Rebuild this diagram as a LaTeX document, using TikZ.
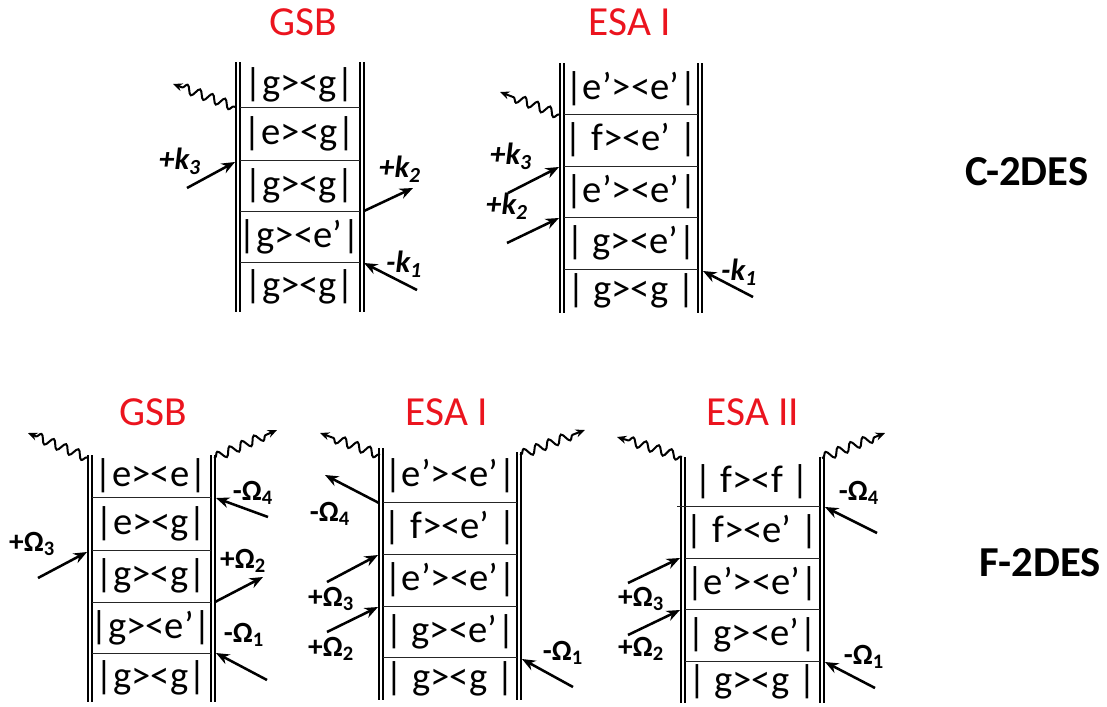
\documentclass[tikz,border=0pt]{standalone}
\usepackage{fontspec}
\setmainfont{Carlito}
\usetikzlibrary{arrows.meta,decorations.pathmorphing}
\definecolor{tred}{RGB}{235,20,30}
\begin{document}
\begin{tikzpicture}[x=0.75pt,y=-0.75pt,
  rail/.style={line width=1.5pt},
  sep/.style={line width=0.7pt,draw=black!85},
  row/.style={font=\fontsize{29}{29}\selectfont,inner sep=0pt},
  ttl/.style={text=tred,font=\fontsize{31}{31}\selectfont,inner sep=0pt},
  beam/.style={line width=1.9pt,-{Stealth[length=10pt,width=8pt]}},
  emit/.style={line width=1.5pt,decorate,decoration={snake,amplitude=3.3pt,segment length=10pt,pre length=1pt,post length=6pt},-{Stealth[length=7pt,width=6pt]}},
  klab/.style={font=\fontsize{23}{23}\selectfont\bfseries\itshape,inner sep=0pt},
  olab/.style={font=\fontsize{22}{22}\selectfont\bfseries,inner sep=0pt},
  side/.style={font=\fontsize{32}{32}\selectfont\bfseries,inner sep=0pt}]
\useasboundingbox (0,0) rectangle (1107,707);

% ================= top GSB =================
\node[ttl] (aT) at (303,22) {GSB};
\draw[rail] (235.5,62) -- (235.5,312) (239.5,62) -- (239.5,312);
\draw[rail] (360,62) -- (360,312) (364,62) -- (364,312);
\foreach \yy in {107,160,211,262} \draw[sep] (239.5,\yy) -- (360,\yy);
\node[row] (a1) at (299.5,84.5) {|g><g|};
\node[row] (a2) at (299.5,133.5) {|e><g|};
\node[row] (a3) at (299.5,185.5) {|g><g|};
\node[row] (a4) at (299.5,236.5) {|g><e’|};
\node[row] (a5) at (299.5,287) {|g><g|};
\coordinate (aw0) at (235,107); \coordinate (aw1) at (173,84);
\draw[emit] (aw0) -- (aw1);
\coordinate (ak3s) at (187,188); \coordinate (ak3e) at (235,162);
\draw[beam] (ak3s) -- (ak3e);
\node[klab] (ak3) at (180,161) {+k\textsubscript{3}};
\coordinate (ak2s) at (364,211); \coordinate (ak2e) at (413,188);
\draw[beam] (ak2s) -- (ak2e);
\node[klab] (ak2) at (400,169) {+k\textsubscript{2}};
\coordinate (ak1s) at (417,290); \coordinate (ak1e) at (364,263);
\draw[beam] (ak1s) -- (ak1e);
\node[klab] (ak1) at (404,264) {-k\textsubscript{1}};

% ================= top ESA I =================
\node[ttl] (bT) at (630,22) {ESA I};
\draw[rail] (560,63) -- (560,313) (564,63) -- (564,313);
\draw[rail] (698,63) -- (698,313) (702,63) -- (702,313);
\foreach \yy in {114,166,217,269} \draw[sep] (564,\yy) -- (698,\yy);
\node[row] (b1) at (631,88.5) {|e’><e’|};
\node[row] (b2) at (631,140) {| f><e’ |};
\node[row] (b3) at (631,191.5) {|e’><e’|};
\node[row] (b4) at (631,243) {| g><e’|};
\node[row] (b5) at (631,291) {| g><g |};
\coordinate (bw0) at (560,115); \coordinate (bw1) at (500,92);
\draw[emit] (bw0) -- (bw1);
\coordinate (bk3s) at (508,193); \coordinate (bk3e) at (559,167);
\draw[beam] (bk3s) -- (bk3e);
\node[klab] (bk3) at (511,156) {+k\textsubscript{3}};
\coordinate (bk2s) at (507,243); \coordinate (bk2e) at (559,218);
\draw[beam] (bk2s) -- (bk2e);
\node[klab] (bk2) at (507,206) {+k\textsubscript{2}};
\coordinate (bk1s) at (753,297); \coordinate (bk1e) at (703,271);
\draw[beam] (bk1s) -- (bk1e);
\node[klab] (bk1) at (739,272) {-k\textsubscript{1}};

\node[side] (cdes) at (1027,172) {C-2DES};

% ================= bottom GSB =================
\node[ttl] (cT) at (153,412) {GSB};
\draw[rail] (87.5,455) -- (87.5,702) (91.5,455) -- (91.5,702);
\draw[rail] (211,455) -- (211,702) (215,455) -- (215,702);
\foreach \yy in {497,550,602,653} \draw[sep] (91.5,\yy) -- (211,\yy);
\node[row] (c1) at (151,476) {|e><e|};
\node[row] (c2) at (151,523.5) {|e><g|};
\node[row] (c3) at (151,576) {|g><g|};
\node[row] (c4) at (151,627.5) {|g><e’|};
\node[row] (c5) at (151,677.5) {|g><g|};
\coordinate (cw0) at (88,458); \coordinate (cw1) at (28,433);
\draw[emit] (cw0) -- (cw1);
\coordinate (cv0) at (214,458); \coordinate (cv1) at (277,430);
\draw[emit] (cv0) -- (cv1);
\coordinate (c3s) at (38,578); \coordinate (c3e) at (87,552);
\draw[beam] (c3s) -- (c3e);
\node[olab] (cO3) at (32,544) {+Ω\textsubscript{3}};
\coordinate (c4s) at (268,517); \coordinate (c4e) at (216,498);
\draw[beam] (c4s) -- (c4e);
\node[olab] (cO4) at (253,493) {-Ω\textsubscript{4}};
\coordinate (c2s) at (215,602); \coordinate (c2e) at (263,577);
\draw[beam] (c2s) -- (c2e);
\node[olab] (cO2) at (243,561) {+Ω\textsubscript{2}};
\coordinate (c1s) at (267,680); \coordinate (c1e) at (216,653);
\draw[beam] (c1s) -- (c1e);
\node[olab] (cO1) at (244,635) {-Ω\textsubscript{1}};

% ================= bottom ESA I =================
\node[ttl] (dT) at (447,412) {ESA I};
\draw[rail] (379,448) -- (379,700) (383,448) -- (383,700);
\draw[rail] (517,452) -- (517,700) (521,452) -- (521,700);
\foreach \yy in {502,554,606,657} \draw[sep] (383,\yy) -- (517,\yy);
\node[row] (d1) at (450,476) {|e’><e’|};
\node[row] (d2) at (450,528) {| f><e’ |};
\node[row] (d3) at (450,580) {|e’><e’|};
\node[row] (d4) at (450,631.5) {| g><e’|};
\node[row] (d5) at (450,678.5) {| g><g |};
\coordinate (dw0) at (380,455); \coordinate (dw1) at (320,433);
\draw[emit] (dw0) -- (dw1);
\coordinate (dv0) at (520,455); \coordinate (dv1) at (585,430);
\draw[emit] (dv0) -- (dv1);
\coordinate (d4s) at (379,503); \coordinate (d4e) at (325,475);
\draw[beam] (d4s) -- (d4e);
\node[olab] (dO4) at (330,514) {-Ω\textsubscript{4}};
\coordinate (d3s) at (327,582); \coordinate (d3e) at (378,555);
\draw[beam] (d3s) -- (d3e);
\node[olab] (dO3) at (331,599) {+Ω\textsubscript{3}};
\coordinate (d2s) at (327,632); \coordinate (d2e) at (378,607);
\draw[beam] (d2s) -- (d2e);
\node[olab] (dO2) at (331,649) {+Ω\textsubscript{2}};
\coordinate (d1s) at (573,687); \coordinate (d1e) at (522,659);
\draw[beam] (d1s) -- (d1e);
\node[olab] (dO1) at (563,653) {-Ω\textsubscript{1}};

% ================= bottom ESA II =================
\node[ttl] (eT) at (753,412) {ESA II};
\draw[rail] (681,457) -- (681,703) (685,457) -- (685,703);
\draw[rail] (820,457) -- (820,703) (824,457) -- (824,703);
\draw[sep] (677,506) -- (820,506);
\foreach \yy in {558,609,661} \draw[sep] (685,\yy) -- (820,\yy);
\node[row] (e1) at (752,481.5) {| f><f |};
\node[row] (e2) at (752,532) {| f><e’ |};
\node[row] (e3) at (752,583.5) {|e’><e’|};
\node[row] (e4) at (752,635) {| g><e’|};
\node[row] (e5) at (752,682) {| g><g |};
\coordinate (ew0) at (682,457); \coordinate (ew1) at (617,437);
\draw[emit] (ew0) -- (ew1);
\coordinate (ev0) at (822,458); \coordinate (ev1) at (885,433);
\draw[emit] (ev0) -- (ev1);
\coordinate (e4s) at (877,533); \coordinate (e4e) at (825,507);
\draw[beam] (e4s) -- (e4e);
\node[olab] (eO4) at (859,493) {-Ω\textsubscript{4}};
\coordinate (e3s) at (628,583); \coordinate (e3e) at (680,558);
\draw[beam] (e3s) -- (e3e);
\node[olab] (eO3) at (641,599) {+Ω\textsubscript{3}};
\coordinate (e2s) at (628,635); \coordinate (e2e) at (680,610);
\draw[beam] (e2s) -- (e2e);
\node[olab] (eO2) at (641,649) {+Ω\textsubscript{2}};
\coordinate (e1s) at (875,688); \coordinate (e1e) at (825,662);
\draw[beam] (e1s) -- (e1e);
\node[olab] (eO1) at (864,657) {-Ω\textsubscript{1}};

\node[side] (fdes) at (1040,563) {F-2DES};
\end{tikzpicture}
\end{document}
